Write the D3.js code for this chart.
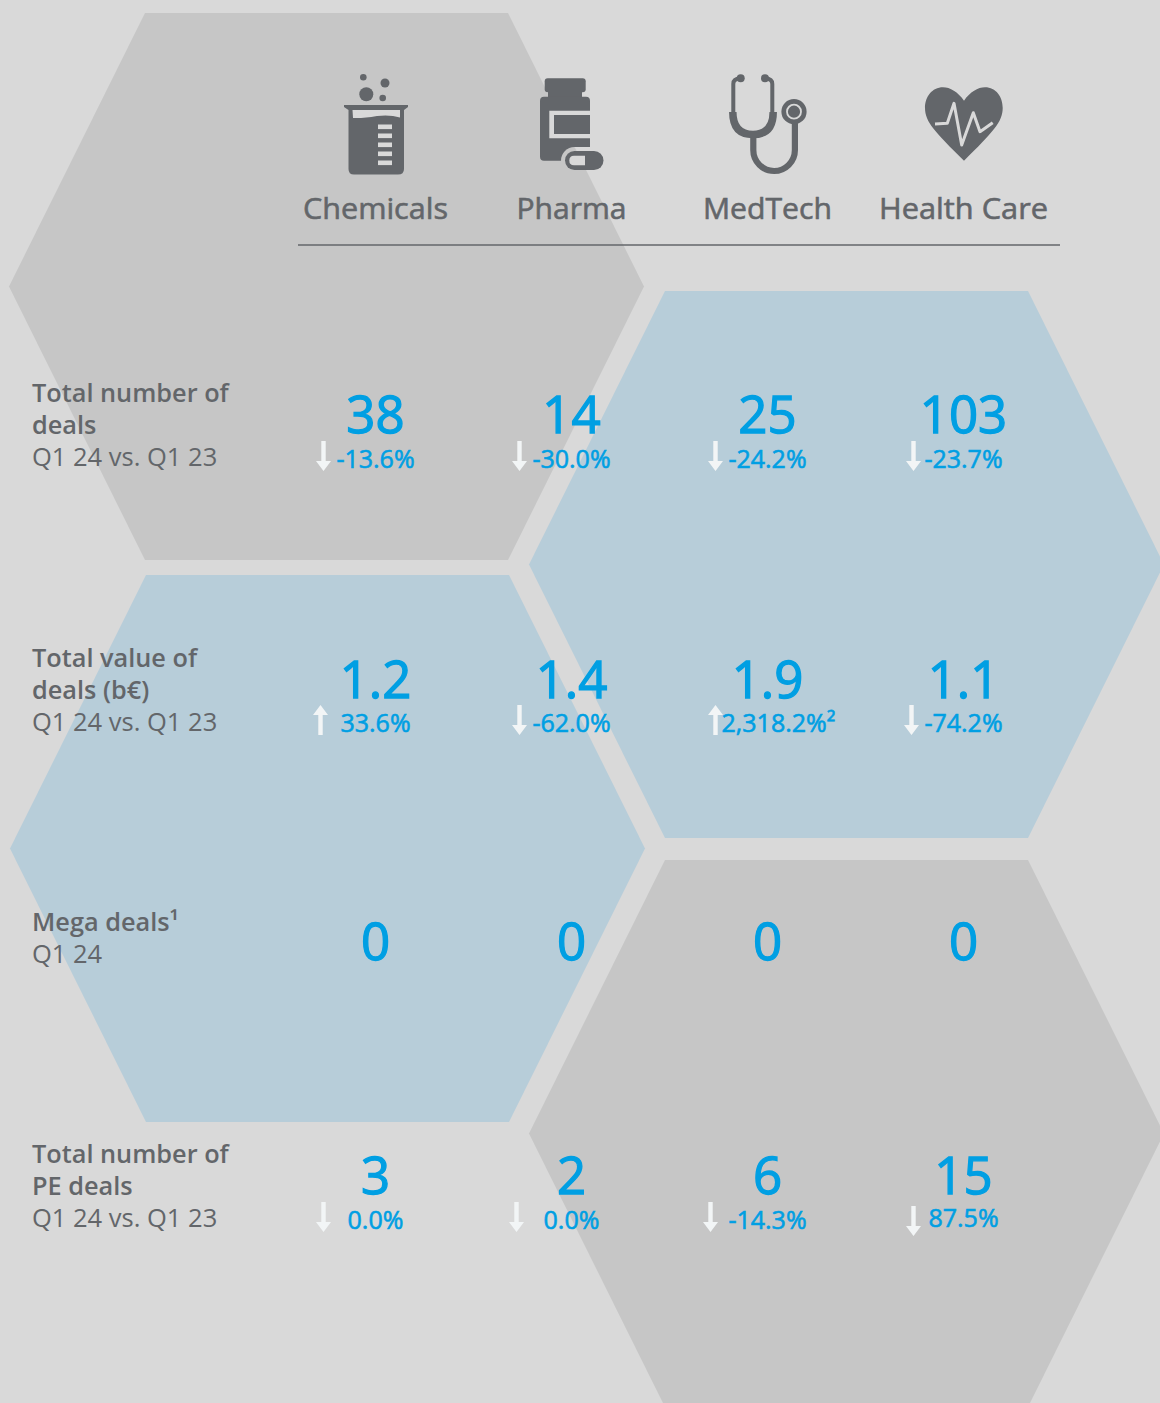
<!DOCTYPE html>
<html>
<head>
<meta charset="utf-8">
<script src="https://cdnjs.cloudflare.com/ajax/libs/d3/7.8.5/d3.min.js"></script>
<style>
  html, body { margin: 0; padding: 0; background: #d9d9d9; }
  svg { display: block; }
  text { font-family: "Open Sans", "Noto Sans", sans-serif; }
</style>
</head>
<body>
<div id="chart"></div>
<script>
var sectors = ["Chemicals", "Pharma", "MedTech", "Health Care"];
var rows = ["deals", "value", "mega", "pe"];

var dealCounts = [38, 14, 25, 103];
var dealChanges = [-13.6, -30.0, -24.2, -23.7];
var dealValues = [1.2, 1.4, 1.9, 1.1];
var valueChanges = [33.6, -62.0, 2318.2, -74.2];
var megaDeals = [0, 0, 0, 0];
var peCounts = [3, 2, 6, 15];
var peChanges = [0.0, 0.0, -14.3, 87.5];

var dealArrows = ["down", "down", "down", "down"];
var valueArrows = ["up", "down", "up", "down"];
var peArrows = ["down", "down", "down", "down"];

var dealLabels = ["Total number of", "deals"];
var valueLabels = ["Total value of", "deals (b€)"];
var megaLabels = ["Mega deals¹"];
var peLabels = ["Total number of", "PE deals"];
var compareLabel = "Q1 24 vs. Q1 23";
var megaCompareLabel = "Q1 24";

var width = 1160, height = 1403
  , grey = "#63666a", blue = "#009fe3", paper = "#d9d9d9"
  , hexGrey = "#c6c6c6", hexBlue = "#b7cdd9";

var locale = d3.formatLocale({ decimal: ".", thousands: ",", grouping: [3], currency: ["", "€"], minus: "-" });

var svg = d3.select("#chart").append("svg")
  .attr("width", width)
  .attr("height", height)
  .attr("viewBox", [0, 0, width, height]);

svg.append("rect").attr("width", width).attr("height", height).attr("fill", paper);

// background hexagons
function hexagon(cx, cy) {
  var w = 317.5, flat = 181.5, h = 273.5;
  return d3.line()([
    [cx - flat, cy - h], [cx + flat, cy - h], [cx + w, cy],
    [cx + flat, cy + h], [cx - flat, cy + h], [cx - w, cy]
  ]) + "Z";
}
svg.append("path").attr("d", hexagon(326.5, 286.5)).attr("fill", hexGrey);
svg.append("path").attr("d", hexagon(846.5, 564.5)).attr("fill", hexBlue);
svg.append("path").attr("d", hexagon(327.5, 848.5)).attr("fill", hexBlue);
svg.append("path").attr("d", hexagon(846.5, 1133.5)).attr("fill", hexGrey);

var x = d3.scalePoint().domain(sectors).range([375.5, 963.5]);
var y = d3.scaleOrdinal().domain(rows).range([433, 698, 960, 1194]);
var deltaY = d3.scaleOrdinal().domain(rows).range([468, 732, 0, 1229]);

// header
svg.selectAll("text.sector")
  .data(sectors)
  .join("text")
  .attr("class", "sector")
  .attr("x", function (d) { return x(d); })
  .attr("y", 219)
  .attr("text-anchor", "middle")
  .attr("font-size", 30)
  .attr("fill", grey)
  .attr("stroke", grey)
  .attr("stroke-width", 0.6)
  .attr("textLength", function (d, i) { return [145, 110, 129, 169][i]; })
  .attr("lengthAdjust", "spacingAndGlyphs")
  .text(function (d) { return d; });

svg.append("line")
  .attr("x1", 298).attr("x2", 1060)
  .attr("y1", 245).attr("y2", 245)
  .attr("stroke", grey)
  .attr("stroke-width", 1.5);

// icons
var icons = svg.append("g");

var beaker = icons.append("g").attr("fill", grey);
[[363.3, 77.3, 3.3], [385, 83, 4.5], [366.3, 94.3, 7], [382.7, 98, 3.3]].forEach(function (c) {
  beaker.append("circle").attr("cx", c[0]).attr("cy", c[1]).attr("r", c[2]);
});
beaker.append("path").attr("d", "M344 105H408V107L404 110V169Q404 174.5 398 174.5H354Q348.5 174.5 348.5 169V110L344 107Z");
beaker.append("path").attr("fill", paper)
  .attr("d", "M352.5 110H400V117.5Q390 114.5 377 116Q363 118.5 353 118Z");
d3.range(5).forEach(function (i) {
  beaker.append("rect").attr("fill", paper)
    .attr("x", 378).attr("y", 124.5 + i * 9)
    .attr("width", 14).attr("height", 4.6);
});

// pill sits in a notch cut out of the bottle, so the hexagon edge shows through it
var notch = svg.append("defs").append("mask").attr("id", "pill-notch")
  .attr("maskUnits", "userSpaceOnUse")
  .attr("x", 530).attr("y", 70).attr("width", 90).attr("height", 110);
notch.append("rect").attr("x", 530).attr("y", 70).attr("width", 90).attr("height", 110).attr("fill", "#fff");
notch.append("rect").attr("x", 561).attr("y", 147).attr("width", 46).attr("height", 27).attr("rx", 13.5).attr("fill", "#000");

var bottle = icons.append("g").attr("fill", grey);
bottle.append("rect").attr("x", 544.7).attr("y", 78.3).attr("width", 41).attr("height", 14).attr("rx", 3);
bottle.append("rect").attr("x", 548).attr("y", 90).attr("width", 34).attr("height", 8);
bottle.append("rect").attr("x", 540).attr("y", 96.7).attr("width", 50).attr("height", 64).attr("rx", 4)
  .attr("mask", "url(#pill-notch)");
bottle.append("path").attr("fill", paper).attr("d", "M549.3 110.7H590V138.3H549.3Z");
bottle.append("rect").attr("x", 554).attr("y", 115).attr("width", 36).attr("height", 19);
bottle.append("rect").attr("x", 565).attr("y", 151).attr("width", 38.5).attr("height", 19).attr("rx", 9.5);
bottle.append("path").attr("fill", paper)
  .attr("d", "M585 155.7V165.3H574Q569.3 165.3 569.3 160.5Q569.3 155.7 574 155.7Z");

var scope = icons.append("g").attr("fill", "none").attr("stroke", grey);
scope.append("path").attr("stroke-width", 4)
  .attr("d", "M740 78.5Q733.3 78.5 733.3 84V114M765.5 78.5Q772.3 78.5 772.3 84V114");
scope.append("path").attr("stroke-width", 7.5)
  .attr("d", "M732.8 112Q732.8 134.5 753 134.5Q773.2 134.5 773.2 112");
scope.append("path").attr("stroke-width", 6.2)
  .attr("d", "M753.3 136V150A20.8 21 0 0 0 794.9 150V120");
scope.append("circle").attr("cx", 740.7).attr("cy", 78.3).attr("r", 4).attr("fill", grey).attr("stroke", "none");
scope.append("circle").attr("cx", 765).attr("cy", 78.3).attr("r", 4).attr("fill", grey).attr("stroke", "none");
scope.append("circle").attr("cx", 794).attr("cy", 111.7).attr("r", 12.6).attr("fill", grey).attr("stroke", "none");
scope.append("circle").attr("cx", 794).attr("cy", 111.7).attr("r", 7).attr("fill", grey)
  .attr("stroke", paper).attr("stroke-width", 1.8);

var heart = icons.append("g");
heart.append("path").attr("fill", grey)
  .attr("d", "M964 100.7C958 92 950 87.3 943 87.3C932 87.3 925 97 925 108C925 122 935 132 964 160.7C993 132 1002.7 122 1002.7 108C1002.7 97 996 87.3 985 87.3C978 87.3 970 92 964 100.7Z");
heart.append("path").attr("fill", "none").attr("stroke", paper).attr("stroke-width", 3)
  .attr("stroke-linejoin", "round")
  .attr("d", d3.line()([[935, 124], [947.3, 123.3], [954, 103.3], [961.7, 145], [973.3, 112.7], [980, 131.7], [992.7, 122.7]]));

// row labels
function rowLabel(lines, note, baseline) {
  var g = svg.append("g").attr("fill", grey);
  lines.forEach(function (t, i) {
    g.append("text").attr("x", 32).attr("y", baseline + i * 32)
      .attr("font-size", 25.3)
      .attr("font-weight", 600).text(t);
  });
  g.append("text").attr("x", 32).attr("y", baseline + lines.length * 32)
    .attr("font-size", 25.5).text(note);
}
rowLabel(dealLabels, compareLabel, 402);
rowLabel(valueLabels, compareLabel, 667);
rowLabel(megaLabels, megaCompareLabel, 931);
rowLabel(peLabels, compareLabel, 1163);

// big numbers
function bigNumbers(values, row, fmt) {
  svg.selectAll("text.num-" + row)
    .data(values)
    .join("text")
    .attr("class", "num-" + row)
    .attr("x", function (d, i) { return x(sectors[i]); })
    .attr("y", y(row))
    .attr("text-anchor", "middle")
    .attr("font-size", 51)
    .attr("fill", blue)
    .attr("stroke", blue)
    .attr("stroke-width", 1.3)
    .text(fmt);
}
bigNumbers(dealCounts, "deals", d3.format("d"));
bigNumbers(dealValues, "value", d3.format(".1f"));
bigNumbers(megaDeals, "mega", d3.format("d"));
bigNumbers(peCounts, "pe", d3.format("d"));

// change lines: arrow offsets and text offsets differ cell by cell in the source
function arrow(g, cx, top, dir) {
  var len = 30, head = 10, hw = 7.5, sw = 2.2;
  var pts = dir === "down"
    ? [[cx - sw, top], [cx + sw, top], [cx + sw, top + len - head], [cx + hw, top + len - head], [cx, top + len], [cx - hw, top + len - head], [cx - sw, top + len - head]]
    : [[cx - sw, top + len], [cx + sw, top + len], [cx + sw, top + head], [cx + hw, top + head], [cx, top], [cx - hw, top + head], [cx - sw, top + head]];
  g.append("path").attr("d", d3.line()(pts) + "Z").attr("fill", "#f2f5f6");
}

function changes(values, dirs, row, arrowOffsets, textOffsets, fmt, arrowDy, textDy) {
  var g = svg.append("g");
  values.forEach(function (v, i) {
    var cx = x(sectors[i]);
    arrow(g, cx + arrowOffsets[i], deltaY(row) - 27 + (arrowDy ? arrowDy[i] : 0), dirs[i]);
    g.append("text")
      .attr("x", cx + textOffsets[i])
      .attr("y", deltaY(row) + (textDy ? textDy[i] : 0))
      .attr("text-anchor", "middle")
      .attr("font-size", 25)
      .attr("fill", blue)
      .attr("stroke", blue)
      .attr("stroke-width", 0.6)
      .text(fmt(v, i));
  });
}
var pct = function (v) { return locale.format(".1f")(v) + "%"; };
changes(dealChanges, dealArrows, "deals", [-52, -52, -52, -50], [0, 0, 0, 0], pct);
changes(valueChanges, valueArrows, "value", [-55, -52, -52, -52], [0, 0, 11, 0], function (v, i) {
  return i === 2 ? locale.format(",.1f")(v) + "%²" : pct(v);
});
changes(peChanges, peArrows, "pe", [-52, -55, -57, -50], [0, 0, 0, 0], pct, [0, 0, 0, 4], [0, 0, 0, -2]);
</script>
</body>
</html>
